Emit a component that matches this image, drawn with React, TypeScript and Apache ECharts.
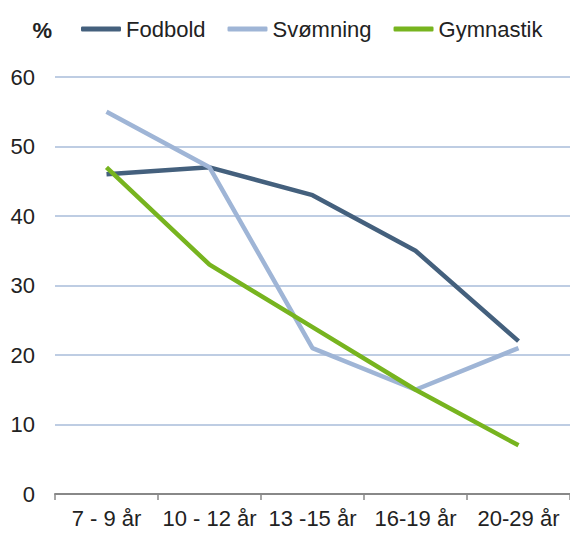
import React, { useEffect, useRef } from "react";
import * as echarts from "echarts";

const categories = ["7 - 9 år", "10 - 12 år", "13 -15 år", "16-19 år", "20-29 år"];
const fodbold = [46, 47, 43, 35, 22];
const svomning = [55, 47, 21, 15, 21];
const gymnastik = [47, 33, 24, 15, 7];
const yTicks = { min: 0, max: 60, interval: 10 };

export default function App() {
  const ref = useRef<HTMLDivElement>(null);
  useEffect(() => {
    if (!ref.current) return;
    const chart = echarts.init(ref.current, undefined, { renderer: "svg" });
    const font = "'Liberation Sans', Arial, sans-serif";
    chart.setOption({
      animation: false,
      textStyle: { fontFamily: font },
      legend: {
        left: 76,
        top: 13,
        icon: "roundRect",
        itemWidth: 40,
        itemHeight: 5,
        itemGap: 22,
        textStyle: { fontSize: 22, color: "#222", fontFamily: font },
        data: ["Fodbold", "Svømning", "Gymnastik"],
      },
      grid: { left: 55, right: 0, top: 77, bottom: 42, containLabel: false },
      xAxis: {
        type: "category",
        data: categories,
        boundaryGap: true,
        axisLine: { lineStyle: { color: "#888", width: 2 } },
        axisTick: { show: true, length: 6, lineStyle: { color: "#888", width: 1.5 } },
        axisLabel: { fontSize: 22, color: "#222", margin: 13, fontFamily: font, interval: 0 },
      },
      yAxis: {
        type: "value",
        min: yTicks.min,
        max: yTicks.max,
        interval: yTicks.interval,
        name: "%",
        nameLocation: "end",
        nameGap: 36,
        nameTextStyle: { fontSize: 22, fontWeight: "bold", color: "#222", align: "right", padding: [0, 3, 0, 0], fontFamily: font },
        axisLine: { show: false },
        axisTick: { show: false },
        axisLabel: { fontSize: 22, color: "#222", margin: 20, fontFamily: font },
        splitLine: { lineStyle: { color: "#a9bcda", width: 1.5 } },
      },
      series: [
        { name: "Fodbold", type: "line", data: fodbold, showSymbol: false, symbol: "none", lineStyle: { color: "#44607d", width: 4.5 }, itemStyle: { color: "#44607d" } },
        { name: "Svømning", type: "line", data: svomning, showSymbol: false, symbol: "none", lineStyle: { color: "#9fb5d6", width: 4.5 }, itemStyle: { color: "#9fb5d6" } },
        { name: "Gymnastik", type: "line", data: gymnastik, showSymbol: false, symbol: "none", lineStyle: { color: "#77b41f", width: 4.5 }, itemStyle: { color: "#77b41f" } },
      ],
    });
    return () => chart.dispose();
  }, []);
  return <div ref={ref} style={{ position: "fixed", left: 0, top: 0, width: 570, height: 536, background: "#fff" }} />;
}
